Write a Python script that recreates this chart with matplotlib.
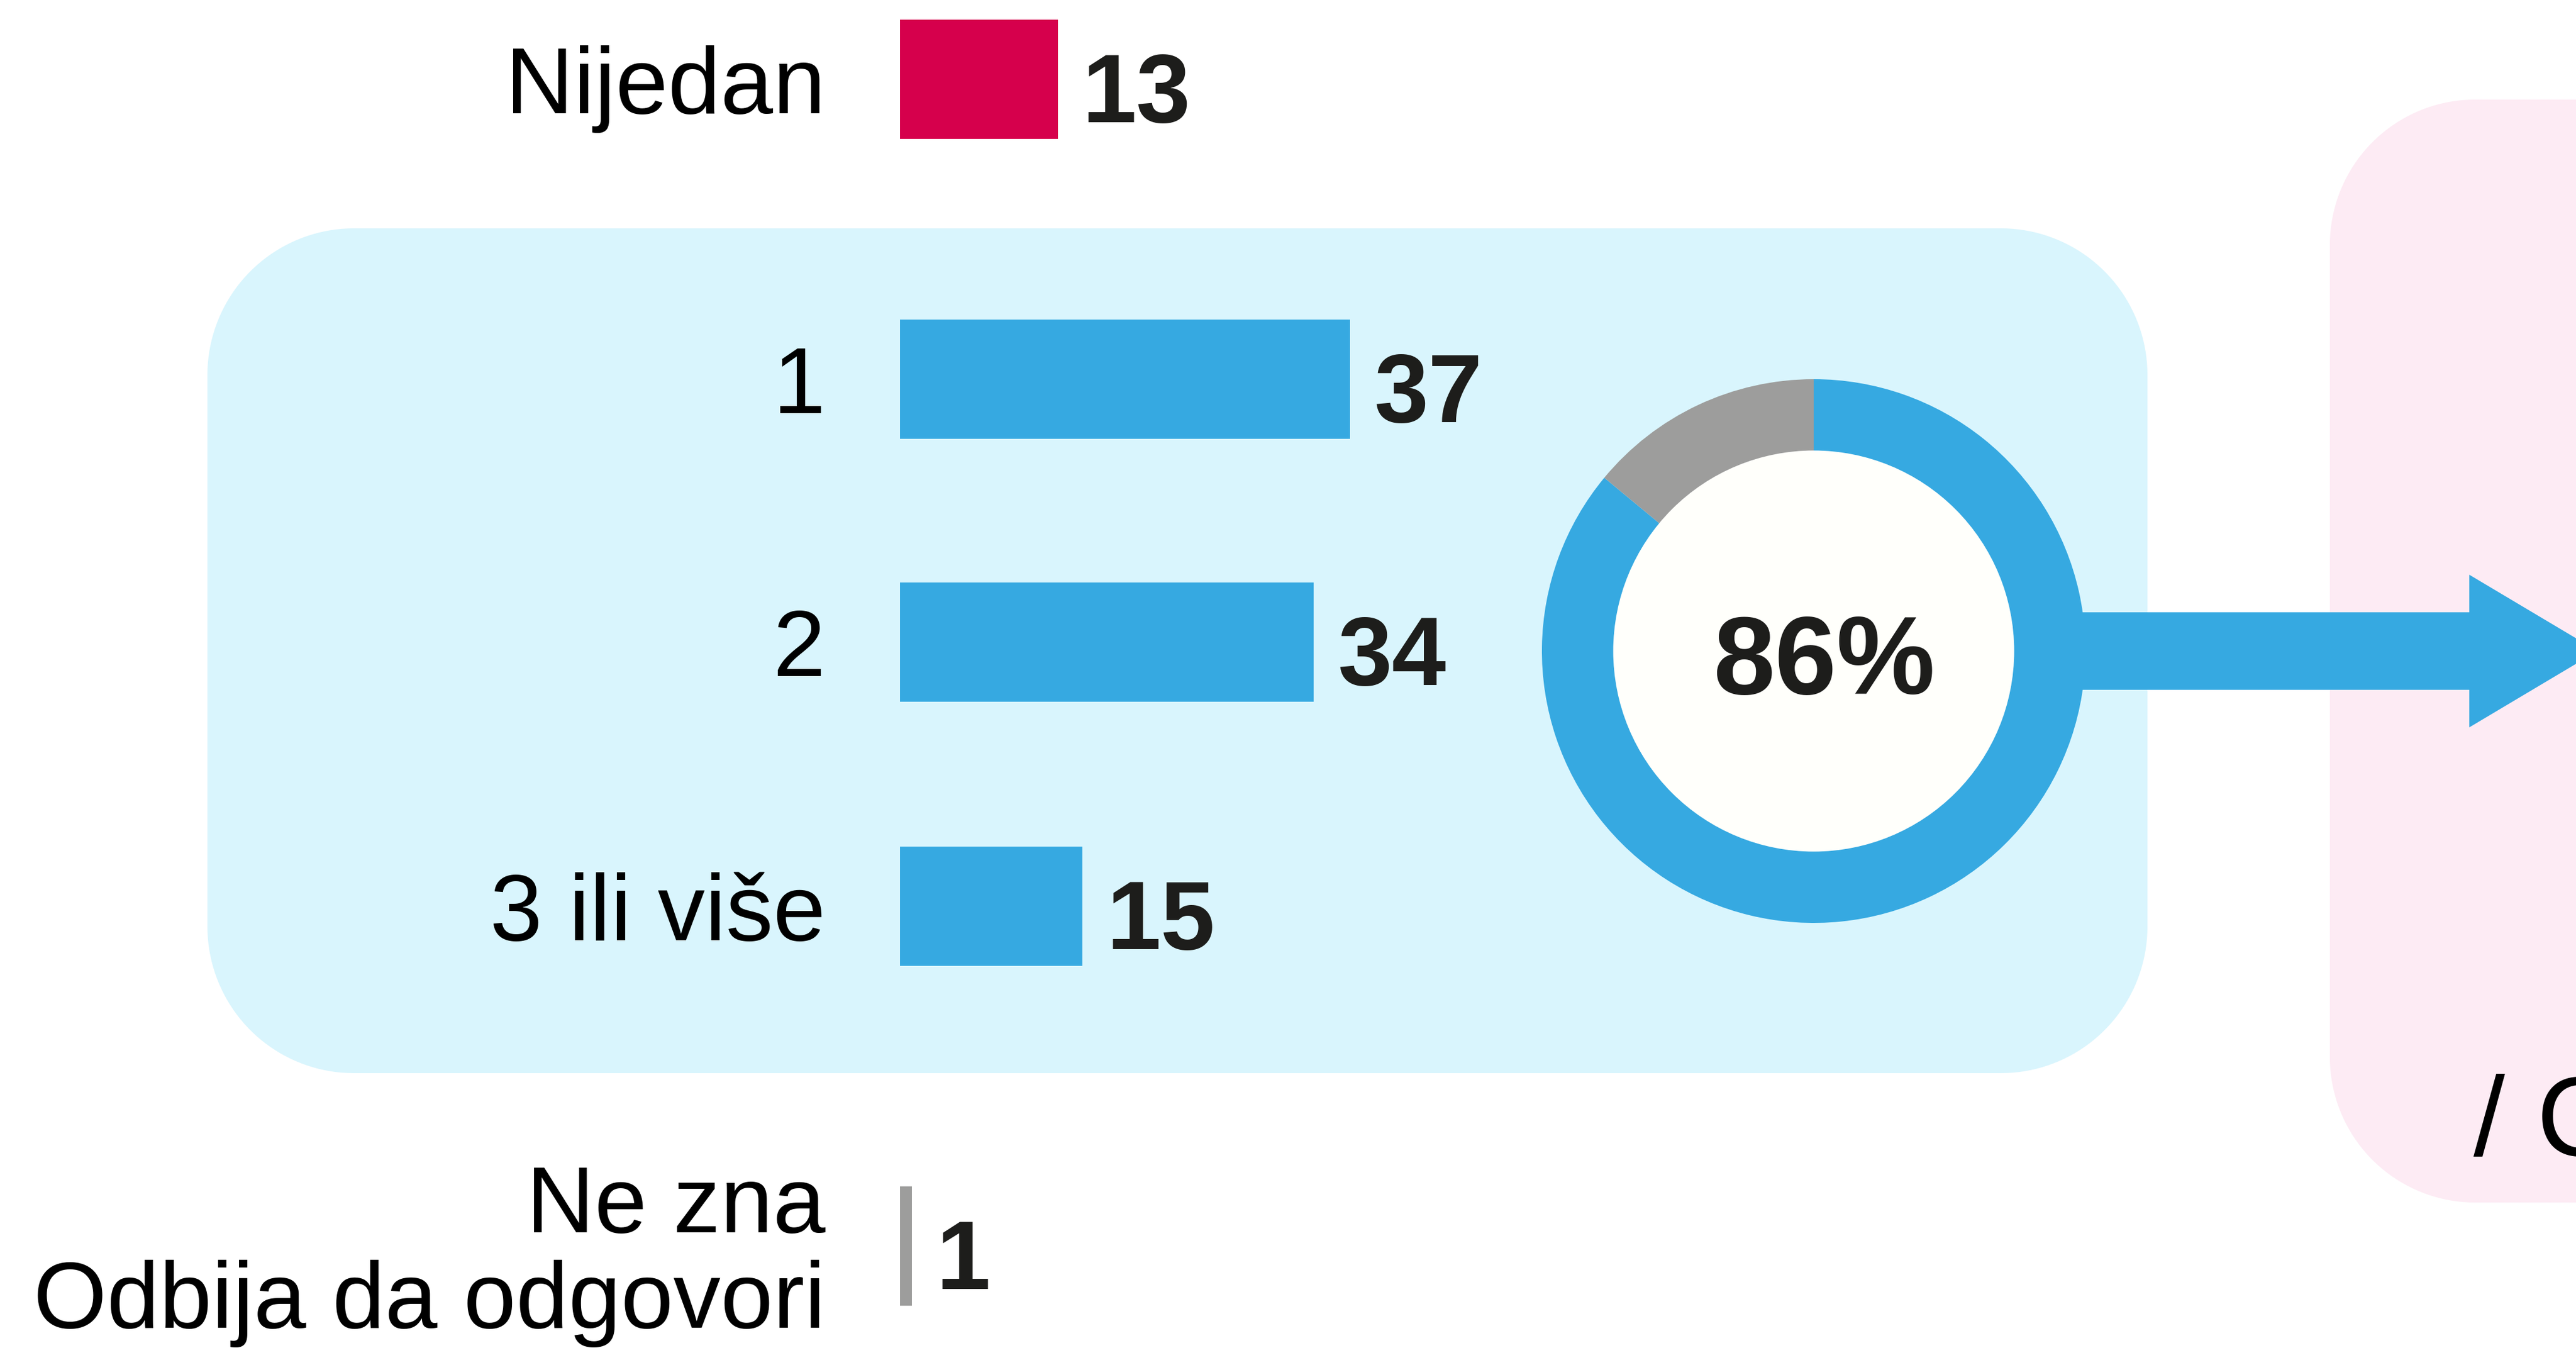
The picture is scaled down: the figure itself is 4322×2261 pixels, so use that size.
import numpy as np
import matplotlib
matplotlib.use("Agg")
import matplotlib.pyplot as plt
from matplotlib.patches import Circle, Polygon

# ---------------- data ----------------
categories = ["Nijedan", "1", "2", "3 ili više", "Ne zna\nOdbija da odgovori"]
values = [13, 37, 34, 15, 1]
bar_colors = ["#D6004C", "#36A9E1", "#36A9E1", "#36A9E1", "#9D9D9C"]
in_group = [False, True, True, True, False]   # bars inside the blue box (summed in the donut)
side_text = "/ C"                              # truncated text at the right edge

# ---------------- layout ----------------
W, H, DPI = 4322, 2261, 100
PX_PER_UNIT = 20.4
BAR_X0 = 1510
BAR_H = 200
centers = [133, 636, 1077, 1520, 2090]
LABEL_X = 1385
FONT = "Liberation Sans"
BLUE, GRAY = "#36A9E1", "#9D9D9C"

LABEL_PT = 114
VALUE_PT = 118
PCT_PT = 134
cap = lambda pt: 0.716 * pt * DPI / 72.0


def rounded_rect(x0, y0, w, h, r, n=40):
    """Vertices of a rectangle with circular corners (pixel coords, y down)."""
    pts = []
    corners = [(x0 + w - r, y0 + r, -90, 0),      # top-right
               (x0 + w - r, y0 + h - r, 0, 90),   # bottom-right
               (x0 + r, y0 + h - r, 90, 180),     # bottom-left
               (x0 + r, y0 + r, 180, 270)]        # top-left
    for cxr, cyr, a0, a1 in corners:
        t = np.radians(np.linspace(a0, a1, n))
        pts.extend(zip(cxr + r * np.cos(t), cyr + r * np.sin(t)))
    return pts


fig = plt.figure(figsize=(W / DPI, H / DPI), dpi=DPI)
fig.patch.set_facecolor("white")

# background axes in pixel coordinates
bg = fig.add_axes([0, 0, 1, 1])
bg.set_xlim(0, W)
bg.set_ylim(H, 0)
bg.axis("off")

bg.add_patch(Polygon(rounded_rect(348, 383, 3603 - 348, 1800 - 383, 246),
                     closed=True, fc="#D9F5FD", ec="none", zorder=0))
bg.add_patch(Polygon(rounded_rect(3909, 167, 900, 2017 - 167, 244),
                     closed=True, fc="#FDEBF4", ec="none", zorder=0))

# arrow from donut to the right box
cx, cy, R_out, ring = 3043, 1092, 456, 121
bg.add_patch(Polygon([(cx, cy - 65), (4143, cy - 65), (4143, cy - 128),
                      (4358, cy), (4143, cy + 128), (4143, cy + 65), (cx, cy + 65)],
                     closed=True, fc=BLUE, ec="none", zorder=1))

bg.text(4150, 1938, side_text, fontsize=137, family=FONT, color="black",
        ha="left", va="baseline", zorder=2)

# category labels
for cat, c in zip(categories, centers):
    lines = cat.split("\n")
    n = len(lines)
    for i, line in enumerate(lines):
        yc = c + (i - (n - 1) / 2) * 160
        bg.text(LABEL_X, yc + cap(LABEL_PT) / 2, line, fontsize=LABEL_PT, family=FONT,
                color="black", ha="right", va="baseline")

# bars axes
bax = fig.add_axes([0, 0, 1, 1])
bax.patch.set_alpha(0)
bax.set_xlim(-BAR_X0 / PX_PER_UNIT, (W - BAR_X0) / PX_PER_UNIT)
bax.set_ylim(H, 0)
bax.axis("off")
bax.barh(centers, values, height=BAR_H, color=bar_colors, edgecolor="none")
for v, c in zip(values, centers):
    bax.annotate(str(v), xy=(v, c), xytext=(29, -(13 + cap(VALUE_PT) / 2) * 72 / DPI),
                 textcoords="offset points", ha="left", va="baseline",
                 fontsize=VALUE_PT, fontweight="bold", family=FONT, color="#1D1D1B")

# donut
share = sum(v for v, g in zip(values, in_group) if g)
dax = fig.add_axes([(cx - R_out) / W, 1 - (cy + R_out) / H, 2 * R_out / W, 2 * R_out / H])
dax.pie([share, 100 - share], colors=[BLUE, GRAY], startangle=90, counterclock=False,
        radius=1, wedgeprops=dict(width=ring / R_out, edgecolor="none", linewidth=0))
dax.add_patch(Circle((0, 0), 1 - ring / R_out + 0.003, fc="#FFFFFB", ec="none", zorder=5))
dax.set_xlim(-1, 1)
dax.set_ylim(-1, 1)
dax.set_aspect("equal")
dax.axis("off")
dax.text((3060 - cx) / R_out, -(5 + cap(PCT_PT) / 2) / R_out, f"{share}%",
         fontsize=PCT_PT, fontweight="bold", family=FONT, color="#1D1D1B",
         ha="center", va="baseline", zorder=6)

fig.savefig("out.png", dpi=DPI, facecolor="white")
